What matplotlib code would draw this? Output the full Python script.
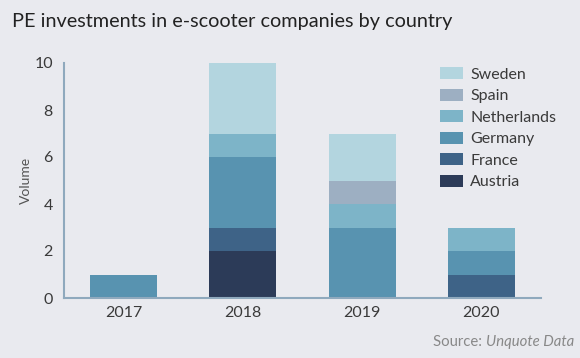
import matplotlib
matplotlib.use("Agg")
import matplotlib.pyplot as plt
import numpy as np
from matplotlib.offsetbox import TextArea, HPacker, AnchoredOffsetbox

years = ["2017", "2018", "2019", "2020"]
countries = ["Austria", "France", "Germany", "Netherlands", "Spain", "Sweden"]
austria = [0, 2, 0, 0]
france = [0, 1, 0, 1]
germany = [1, 3, 3, 1]
netherlands = [0, 1, 1, 1]
spain = [0, 0, 1, 0]
sweden = [0, 3, 2, 0]
series = [austria, france, germany, netherlands, spain, sweden]
colors = ["#2c3b58", "#3e6387", "#5893b0", "#7db4c8", "#9dafc2", "#b3d5df"]

plt.rcParams['font.family'] = ['Lato', 'DejaVu Sans']
bg = "#e9eaef"
fig = plt.figure(figsize=(5.8, 3.58), dpi=100, facecolor=bg)
ax = fig.add_axes([64/580, 1-298/358, (541-64)/580, (298-63)/358])
ax.set_facecolor(bg)

x = np.arange(len(years))
bottom = np.zeros(len(years))
handles = []
for name, vals, c in zip(countries, series, colors):
    v = np.array(vals, dtype=float)
    b = ax.bar(x, v, width=0.56, bottom=bottom, color=c, label=name, linewidth=0)
    handles.append(b)
    bottom += v

ax.set_xlim(-0.5, 3.5)
ax.set_ylim(0, 10)
ax.set_xticks(x)
ax.set_xticklabels(years)
ax.set_yticks([0, 2, 4, 6, 8, 10])
ax.tick_params(length=0, labelsize=11.5, colors="#3a3a3a", pad=6)
ax.tick_params(axis='y', pad=8)
for s in ["top", "right"]:
    ax.spines[s].set_visible(False)
for s in ["left", "bottom"]:
    ax.spines[s].set_color("#8fa9bd")
    ax.spines[s].set_linewidth(1.5)
ax.set_ylabel("Volume", fontsize=10, color="#555555", labelpad=2)

leg = fig.legend(handles[::-1], countries[::-1], loc="upper right",
                 bbox_to_anchor=(556/580, 1-67/358), frameon=False, fontsize=11.5,
                 handlelength=1.45, handleheight=0.8, labelspacing=0.43,
                 handletextpad=0.45, borderaxespad=0, borderpad=0)
for t in leg.get_texts():
    t.set_color("#3a3a3a")

fig.text(12/580, 1-21/358, "PE investments in e-scooter companies by country",
         fontsize=14.3, color="#222222", va="center", ha="left")
ta1 = TextArea("Source: ", textprops=dict(fontsize=10.7, color="#888888"))
ta2 = TextArea("Unquote Data", textprops=dict(fontsize=10.7, color="#888888", style="italic"))
box = HPacker(children=[ta1, ta2], align="baseline", pad=0, sep=0)
ab = AnchoredOffsetbox(loc="center right", child=box, frameon=False,
                       bbox_to_anchor=(574/580, 1-342/358),
                       bbox_transform=fig.transFigure, borderpad=0, pad=0)
fig.add_artist(ab)

fig.savefig("out.png", dpi=100, facecolor=bg)
